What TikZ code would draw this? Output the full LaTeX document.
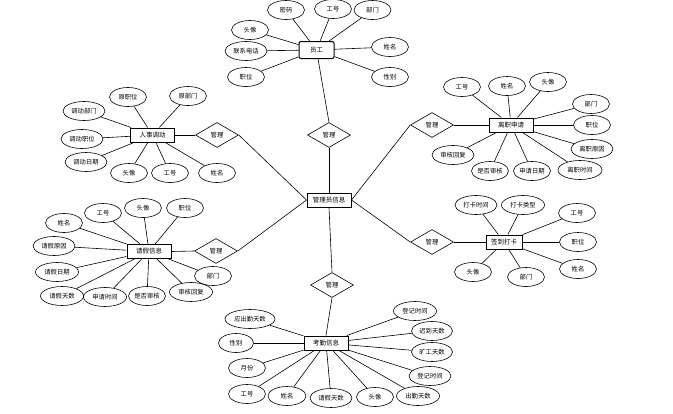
\documentclass[tikz,border=0pt]{standalone}
\usepackage{fontspec}
\newfontfamily\cjk{Noto Sans CJK SC}
\usepackage{tikz}
\usetikzlibrary{shapes.geometric}

\tikzset{
  attr/.style={draw,ellipse,line width=0.6pt,minimum width=37pt,minimum height=19pt,inner sep=0pt,font=\cjk\fontsize{6.3}{7}\selectfont},
  ent/.style={draw,rectangle,line width=1pt,minimum width=44pt,minimum height=14pt,inner sep=1pt,font=\cjk\fontsize{6.5}{7}\selectfont},
  rel/.style={draw,diamond,line width=0.6pt,minimum width=43pt,minimum height=25pt,inner sep=0pt,font=\cjk\fontsize{6.3}{7}\selectfont},
  conn/.style={line width=0.6pt},
}

\begin{document}
\begin{tikzpicture}[x=1pt,y=1pt,yscale=-1,xscale=1]
\useasboundingbox (0,0) rectangle (673,413);

%Centre and relations
\node[ent] (gly) at (329,200) {管理员信息};
\node[rel] (gl1) at (329,135) {管理};
\node[rel] (gl2) at (217,135) {管理};
\node[rel] (gl3) at (432,125) {管理};
\node[rel] (gl4) at (216,251) {管理};
\node[rel] (gl5) at (432,242) {管理};
\node[rel] (gl6) at (332,285) {管理};

%Entities
\node[ent,rounded corners=2pt,minimum width=35pt,minimum height=17pt] (yg) at (316.5,50) {员工};
\node[ent] (rsdd) at (152.5,135) {人事调动};
\node[ent] (lzsq) at (511,125) {离职申请};
\node[ent] (qjxx) at (149,251.5) {请假信息};
\node[ent,minimum width=36pt] (qddk) at (504,242) {签到打卡};
\node[ent] (kqxx) at (326,343) {考勤信息};

%Relation lines
\draw[conn] (gl1.south) -- (gly.north);
\draw[conn] (gl1.north) -- (yg);
\draw[conn] (gl2.east) -- (gly.west);
\draw[conn] (gl2.west) -- (rsdd.east);
\draw[conn] (gl3.west) -- (gly.east);
\draw[conn] (gl3.east) -- (lzsq.west);
\draw[conn] (gl4.east) -- (gly.west);
\draw[conn] (gl4.west) -- (qjxx.east);
\draw[conn] (gl5.west) -- (gly.east);
\draw[conn] (gl5.east) -- (qddk.west);
\draw[conn] (gl6.north) -- (gly.south);
\draw[conn] (gl6.south) -- (kqxx.north);

%Attributes: 员工
\node[attr] (yg1) at (286,10) {密码};
\node[attr] (yg2) at (333,9) {工号};
\node[attr] (yg3) at (372.5,10) {部门};
\node[attr] (yg4) at (250,30) {头像};
\node[attr,minimum width=42pt] (yg5) at (246,51) {联系电话};
\node[attr] (yg6) at (246,77) {职位};
\node[attr] (yg7) at (390,47) {姓名};
\node[attr] (yg8) at (390,77) {性别};
\foreach \i in {1,...,8} \draw[conn] (yg\i) -- (yg);

%Attributes: 人事调动
\node[attr] (rs1) at (128,97) {原职位};
\node[attr] (rs2) at (188,96) {原部门};
\node[attr,minimum width=42pt] (rs3) at (84,111) {调动部门};
\node[attr,minimum width=42pt] (rs4) at (82,139) {调动职位};
\node[attr,minimum width=42pt] (rs5) at (86,162) {调动日期};
\node[attr] (rs6) at (129,173) {头像};
\node[attr] (rs7) at (170,173) {工号};
\node[attr] (rs8) at (217,173) {姓名};
\foreach \i in {1,...,8} \draw[conn] (rs\i) -- (rsdd);

%Attributes: 离职申请
\node[attr] (lz1) at (462,87) {工号};
\node[attr] (lz2) at (507,86) {姓名};
\node[attr] (lz3) at (548,82) {头像};
\node[attr] (lz4) at (591,104) {部门};
\node[attr] (lz5) at (592,125) {职位};
\node[attr,minimum width=42pt] (lz6) at (592,149) {离职原因};
\node[attr,minimum width=42pt] (lz7) at (453,155) {审核回复};
\node[attr] (lz8) at (490,171) {是否审核};
\node[attr] (lz9) at (532,171) {申请日期};
\node[attr,minimum width=44pt] (lz10) at (580,170) {离职时间};
\foreach \i in {1,...,10} \draw[conn] (lz\i) -- (lzsq);

%Attributes: 请假信息
\node[attr] (qj1) at (64,223) {姓名};
\node[attr] (qj2) at (103,213) {工号};
\node[attr] (qj3) at (143,208) {头像};
\node[attr] (qj4) at (185,208) {职位};
\node[attr,minimum width=42pt] (qj5) at (54,246) {请假原因};
\node[attr,minimum width=43pt] (qj6) at (57,272) {请假日期};
\node[attr,minimum width=43pt] (qj7) at (62,296) {请假天数};
\node[attr,minimum width=43pt] (qj8) at (105,297) {申请时间};
\node[attr] (qj9) at (147,296) {是否审核};
\node[attr,minimum width=43pt] (qj10) at (191,292) {审核回复};
\node[attr] (qj11) at (213,276) {部门};
\foreach \i in {1,...,11} \draw[conn] (qj\i) -- (qjxx);

%Attributes: 签到打卡
\node[attr,minimum width=42pt] (dk1) at (476,205) {打卡时间};
\node[attr,minimum width=43pt] (dk2) at (523,205) {打卡类型};
\node[attr] (dk3) at (577,213) {工号};
\node[attr] (dk4) at (578,242) {职位};
\node[attr] (dk5) at (578,269) {姓名};
\node[attr] (dk6) at (473,272) {头像};
\node[attr] (dk7) at (526,277) {部门};
\foreach \i in {1,...,7} \draw[conn] (dk\i) -- (qddk);

%Attributes: 考勤信息
\node[attr,minimum width=50pt] (kq1) at (250,319) {应出勤天数};
\node[attr,minimum width=35pt] (kq2) at (236,343) {性别};
\node[attr] (kq3) at (247,368) {月份};
\node[attr] (kq4) at (247,394) {工号};
\node[attr,minimum width=38pt] (kq5) at (287,396) {姓名};
\node[attr,minimum width=42pt] (kq6) at (331,398) {请假天数};
\node[attr] (kq7) at (375,397) {头像};
\node[attr,minimum width=43pt] (kq8) at (418,396) {出勤天数};
\node[attr,minimum width=43pt] (kq9) at (415,311) {登记时间};
\node[attr,minimum width=41pt] (kq10) at (432,331) {迟到天数};
\node[attr,minimum width=41pt] (kq11) at (432,352) {旷工天数};
\node[attr,minimum width=42pt] (kq12) at (430,376) {登记时间};
\foreach \i in {1,...,12} \draw[conn] (kq\i) -- (kqxx);
\end{tikzpicture}
\end{document}
